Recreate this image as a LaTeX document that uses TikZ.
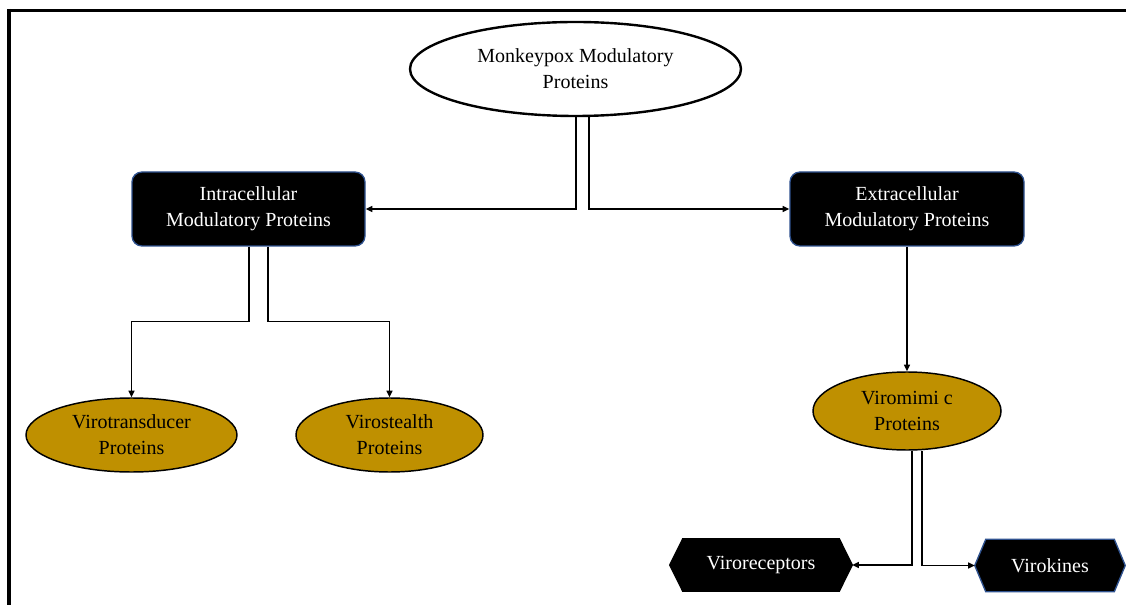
\documentclass[tikz,border=0pt]{standalone}
\usepackage{fontspec}
\setmainfont{Liberation Serif}
\usetikzlibrary{shapes.geometric,arrows.meta,calc}
\definecolor{boxblue}{HTML}{2F528F}
\definecolor{gold}{HTML}{BF9000}
\pgfdeclarelayer{background}
\pgfsetlayers{background,main}
\tikzset{
  every node/.style={font=\fontsize{15}{19.5}\selectfont, align=center},
  rootnode/.style={ellipse, draw, line width=1.8pt, fill=white, inner sep=0pt,
    minimum width=331*0.75pt, minimum height=94*0.75pt},
  catbox/.style={rectangle, rounded corners=7.5pt, fill=black, draw=boxblue,
    line width=1pt, text=white, inner sep=0pt, minimum height=74*0.75pt},
  leaf/.style={ellipse, fill=gold, draw=black, line width=1.1pt, inner sep=0pt},
  hexlabel/.style={rectangle, text=white, inner sep=0pt, minimum height=52*0.75pt},
  conn/.style={line width=1.1pt, -{Triangle[length=5pt,width=4.5pt]}},
  frameline/.style={line cap=rect}
}
\begin{document}
\begin{tikzpicture}[x=0.75pt,y=-0.75pt]
\useasboundingbox (0,0) rectangle (1126,605);
% frame
\draw[line width=2.25pt] (7,10.5) -- (1130,10.5);
\draw[line width=3pt] (9,9) -- (9,610);

% nodes
\node[rootnode] (top) at (575.5,69) {Monkeypox Modulatory\\Proteins};
\node[catbox, minimum width=233*0.75pt] (intra) at (248.5,209) {Intracellular\\Modulatory Proteins};
\node[catbox, minimum width=234*0.75pt] (extra) at (907,209) {Extracellular\\Modulatory Proteins};
\node[leaf, minimum width=211*0.75pt, minimum height=74*0.75pt] (vt) at (131.5,435) {Virotransducer\\Proteins};
\node[leaf, minimum width=187*0.75pt, minimum height=74*0.75pt] (vs) at (389.5,435) {Virostealth\\Proteins};
\node[leaf, minimum width=188*0.75pt, minimum height=78*0.75pt] (vm) at (907,411) {Viromimi c\\Proteins};
\node[hexlabel, minimum width=182*0.75pt] (vr) at (761,565) {Viroreceptors};
\node[hexlabel, minimum width=150*0.75pt] (vk) at (1050,565.5) {Virokines};

% hexagon backgrounds
\begin{pgfonlayer}{background}
\filldraw[fill=black, draw=black, line width=1pt]
  (vr.west) -- ($(vr.north west)+(13,0)$) -- ($(vr.north east)+(-13,0)$) -- (vr.east)
  -- ($(vr.south east)+(-13,0)$) -- ($(vr.south west)+(13,0)$) -- cycle;
\filldraw[fill=black, draw=boxblue, line width=1pt]
  (vk.west) -- ($(vk.north west)+(11,0)$) -- ($(vk.north east)+(-11,0)$) -- (vk.east)
  -- ($(vk.south east)+(-11,0)$) -- ($(vk.south west)+(11,0)$) -- cycle;
\end{pgfonlayer}

% connectors
\draw[conn] ($(top.south)+(0.5,0)$) |- (intra.east);
\draw[conn] ($(top.south)+(13.5,0)$) |- (extra.west);
\draw[conn] ($(intra.south)+(0.5,0)$) -- ++(0,75) -| (vt.north);
\draw[conn] ($(intra.south)+(19.5,0)$) -- ++(0,75) -| (vs.north);
\draw[conn] (extra.south) -- (vm.north);
\draw[conn] ($(vm.south)+(5,0)$) |- (vr.east);
\draw[conn] ($(vm.south)+(15,0)$) |- (vk.west);
\end{tikzpicture}
\end{document}
